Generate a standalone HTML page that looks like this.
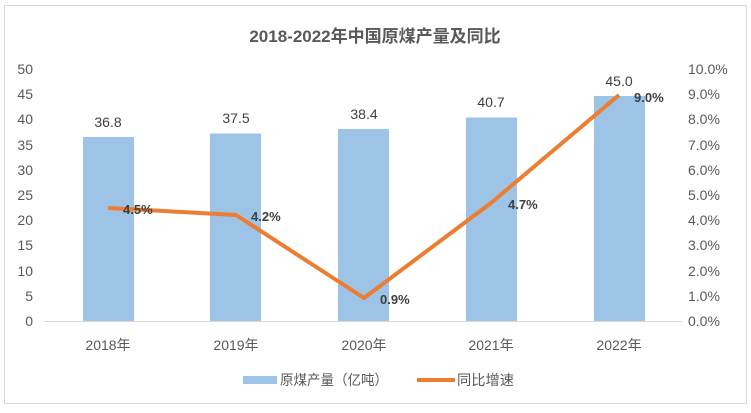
<!DOCTYPE html><html><head><meta charset="utf-8"><style>body{margin:0;background:#fff}svg text{font-family:"Liberation Sans","Noto Sans CJK SC",sans-serif}</style></head><body>
<svg width="751" height="408" xmlns="http://www.w3.org/2000/svg">
<rect x="4.5" y="5.5" width="742" height="398" fill="#fff" stroke="#d9d9d9"/>
<text x="375" y="42" text-anchor="middle" font-size="17" font-weight="bold" fill="#595959">2018-2022年中国原煤产量及同比</text>
<g font-size="14" fill="#595959" text-anchor="end">
<text x="33" y="326">0</text><text x="33" y="301">5</text><text x="33" y="276">10</text><text x="33" y="250">15</text><text x="33" y="225">20</text><text x="33" y="200">25</text><text x="33" y="175">30</text><text x="33" y="150">35</text><text x="33" y="124">40</text><text x="33" y="99">45</text><text x="33" y="74">50</text></g>
<g font-size="14" fill="#595959" text-anchor="start">
<text x="688" y="326">0.0%</text><text x="688" y="301">1.0%</text><text x="688" y="276">2.0%</text><text x="688" y="250">3.0%</text><text x="688" y="225">4.0%</text><text x="688" y="200">5.0%</text><text x="688" y="175">6.0%</text><text x="688" y="150">7.0%</text><text x="688" y="124">8.0%</text><text x="688" y="99">9.0%</text><text x="688" y="74">10.0%</text></g>
<g fill="#9dc3e6">
<rect x="83" y="137" width="51" height="184.5"/>
<rect x="210" y="133.5" width="51" height="188"/>
<rect x="338" y="129" width="51" height="192.5"/>
<rect x="466" y="117.5" width="51" height="204"/>
<rect x="594" y="96" width="51" height="225.5"/></g>
<line x1="44" y1="321.5" x2="682" y2="321.5" stroke="#d9d9d9"/>
<g font-size="14" fill="#404040" text-anchor="middle">
<text x="108" y="127">36.8</text><text x="236" y="123">37.5</text><text x="364" y="119">38.4</text><text x="491" y="107">40.7</text><text x="619" y="86">45.0</text></g>
<polyline points="108,208 236,215 364,298 491,203 619,95" fill="none" stroke="#ed7d31" stroke-width="4" stroke-linejoin="round"/>
<g font-size="13" font-weight="bold" fill="#404040">
<text x="123" y="214">4.5%</text><text x="251" y="221">4.2%</text><text x="380" y="304">0.9%</text><text x="508" y="209">4.7%</text><text x="634" y="102">9.0%</text></g>
<g font-size="14" fill="#595959">
<text x="108" y="350" text-anchor="middle">2018年</text><text x="236" y="350" text-anchor="middle">2019年</text><text x="364" y="350" text-anchor="middle">2020年</text><text x="491" y="350" text-anchor="middle">2021年</text><text x="619" y="350" text-anchor="middle">2022年</text>
<rect x="243" y="376" width="34" height="8" fill="#9dc3e6"/>
<text x="280" y="385" textLength="108" lengthAdjust="spacingAndGlyphs">原煤产量（亿吨）</text>
<line x1="417" y1="380" x2="455" y2="380" stroke="#ed7d31" stroke-width="4"/>
<text x="457" y="385" textLength="57" lengthAdjust="spacingAndGlyphs">同比增速</text></g>
</svg></body></html>
